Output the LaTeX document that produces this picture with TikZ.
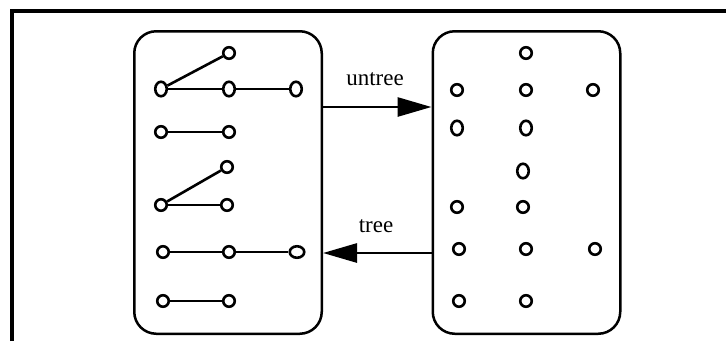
\documentclass[tikz,border=0pt]{standalone}
\usepackage{fontspec}
\setmainfont{Liberation Serif}
\usetikzlibrary{shapes.geometric, arrows.meta}

\begin{document}
\begin{tikzpicture}[x=1pt, y=-1pt,
	dot/.style={ellipse, draw, line width=2.6pt, minimum width=11.5pt, minimum height=11.5pt, inner sep=0pt},
	tall/.style={dot, minimum height=14.5pt},
	wide/.style={dot, minimum width=14.5pt},
	set/.style={draw, rounded corners=22pt, line width=2.5pt, minimum width=187.5pt, minimum height=302.5pt},
	edge/.style={line width=2.6pt},
	map/.style={line width=2.8pt, -{Triangle[length=34pt, width=19pt]}},
	lbl/.style={font=\fontsize{23}{26}\selectfont, anchor=base}]
	\useasboundingbox (0,0) rectangle (726,341);
	\draw[line width=3.5pt] (12,341) -- (12,11) -- (726,11);

	\node[set] (L) at (228,182.5) {};
	\node[set] (R) at (526.5,182.5) {};

	% forest
	\node[dot]  (l1)  at (229,53)  {};
	\node[tall] (l2)  at (161,89)  {};
	\node[tall] (l3)  at (229,89)  {};
	\node[tall] (l4)  at (296,89)  {};
	\node[dot]  (l5)  at (161,132) {};
	\node[dot]  (l6)  at (229,132) {};
	\node[dot]  (l7)  at (227,167) {};
	\node[dot]  (l8)  at (161,205) {};
	\node[dot]  (l9)  at (227,205) {};
	\node[dot]  (l10) at (163,252) {};
	\node[dot]  (l11) at (229,252) {};
	\node[wide] (l12) at (297,252) {};
	\node[dot]  (l13) at (163,301) {};
	\node[dot]  (l14) at (229,301) {};

	\draw[edge] (l2) -- (l1);
	\draw[edge] (l2) -- (l3);
	\draw[edge] (l3) -- (l4);
	\draw[edge] (l5) -- (l6);
	\draw[edge] (l8) -- (l7);
	\draw[edge] (l8) -- (l9);
	\draw[edge] (l10) -- (l11);
	\draw[edge] (l11) -- (l12);
	\draw[edge] (l13) -- (l14);

	% loose vertices
	\node[dot]  (r1)  at (526,53)  {};
	\node[dot]  (r2)  at (457,90)  {};
	\node[dot]  (r3)  at (526,90)  {};
	\node[dot]  (r4)  at (593,90)  {};
	\node[tall] (r5)  at (457,128) {};
	\node[tall] (r6)  at (526,128) {};
	\node[tall] (r7)  at (523,171) {};
	\node[dot]  (r8)  at (457,207) {};
	\node[dot]  (r9)  at (523,207) {};
	\node[dot]  (r10) at (459,249) {};
	\node[dot]  (r11) at (526,249) {};
	\node[dot]  (r12) at (595,249) {};
	\node[dot]  (r13) at (459,301) {};
	\node[dot]  (r14) at (526,301) {};

	\draw[map] ([yshift=75.5pt]L.east) -- ([yshift=75.5pt]R.west);
	\draw[map] ([yshift=-70.5pt]R.west) -- ([yshift=-70.5pt]L.east);
	\node[lbl] (untree) at (375,85)  {untree};
	\node[lbl] (tree)   at (376,232) {tree};
\end{tikzpicture}
\end{document}
